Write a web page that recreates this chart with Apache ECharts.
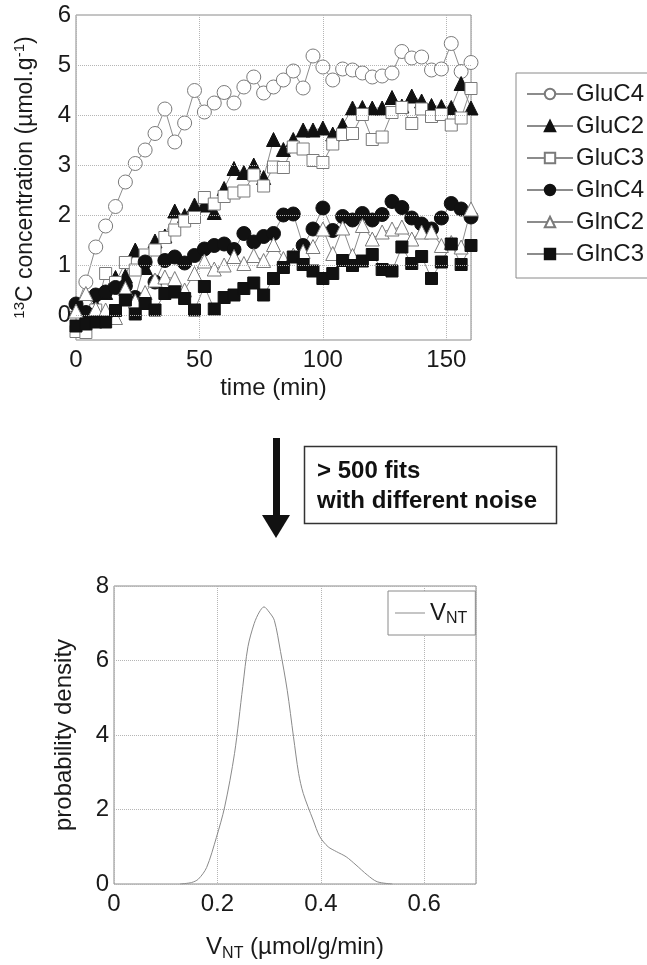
<!DOCTYPE html>
<html>
<head>
    <meta charset="utf-8">
    <script type="text/javascript" src="https://cdn.jsdelivr.net/npm/echarts@6/dist/echarts.min.js"></script>
    <style type="text/css">
        * {
            margin: 0;
            padding: 0;
        }
        body {
            background: #fff;
        }
        #container {
            width: 647px;
            height: 965px;
        }
    </style>
</head>
<body>
<div id="container"></div>

<script type="text/javascript">

    //时间点 (min)
    var times = [0, 4, 8, 12, 16, 20, 24, 28, 32, 36, 40, 44, 48, 52, 56, 60, 64, 68, 72, 76,
        80, 84, 88, 92, 96, 100, 104, 108, 112, 116, 120, 124, 128, 132, 136, 140, 144, 148, 152, 156, 160];

    //13C 浓度
    var gluC4 = [0.15, 0.66, 1.36, 1.78, 2.17, 2.66, 3.03, 3.3, 3.63, 4.12,
        3.46, 3.84, 4.49, 4.06, 4.24, 4.45, 4.24, 4.56, 4.76, 4.44,
        4.56, 4.7, 4.88, 4.54, 5.18, 4.96, 4.7, 4.92, 4.9, 4.84,
        4.76, 4.78, 4.84, 5.27, 5.14, 5.16, 4.9, 4.92, 5.43, 4.87, 5.05];
    var gluC2 = [0.1, 0.0, 0.2, 0.45, 0.75, 0.78, 1.3, 0.95, 1.48, 1.58,
        2.08, 1.99, 2.2, 2.2, 2.05, 2.53, 2.93, 2.85, 3.0, 2.75,
        3.51, 3.31, 3.51, 3.7, 3.7, 3.74, 3.62, 3.8, 4.14, 4.15,
        4.14, 4.14, 4.35, 4.18, 4.38, 4.28, 4.19, 4.17, 4.15, 4.63, 4.14];
    var gluC3 = [-0.33, -0.35, 0.1, 0.83, 0.65, 1.05, 0.9, 1.2, 1.3, 1.55,
        1.7, 1.88, 1.95, 2.35, 2.22, 2.37, 2.44, 2.48, 2.8, 2.58,
        2.96, 2.95, 3.36, 3.32, 3.09, 3.05, 3.42, 3.61, 3.63, 4.01,
        3.51, 3.56, 4.05, 4.15, 3.83, 4.12, 3.97, 4.01, 3.8, 3.94, 4.53];
    var glnC4 = [0.22, 0.05, 0.4, 0.46, 0.55, 0.58, 0.35, 1.06, 0.66, 1.09,
        1.16, 1.04, 1.19, 1.32, 1.39, 1.42, 1.31, 1.63, 1.46, 1.57,
        1.63, 2.0, 2.02, 1.39, 1.72, 2.14, 1.69, 1.97, 1.9, 2.03,
        1.9, 2.01, 2.27, 2.15, 1.94, 1.82, 1.72, 1.94, 2.23, 2.12, 1.96];
    var glnC2 = [0.08, 0.43, 0.12, 0.1, -0.05, 0.53, 0.28, 0.45, 0.7, 0.76,
        0.73, 0.5, 0.83, 1.08, 0.92, 1.0, 1.17, 1.03, 1.19, 1.09,
        1.41, 1.13, 1.2, 1.27, 1.37, 1.72, 1.23, 1.74, 1.19, 1.79,
        1.52, 1.66, 1.72, 1.76, 1.52, 1.66, 1.66, 1.39, 1.45, 1.36, 2.12];
    var glnC3 = [-0.22, -0.18, -0.14, -0.14, 0.09, 0.3, 0.02, 0.23, 0.1, 0.43,
        0.46, 0.33, 0.1, 0.57, 0.12, 0.35, 0.4, 0.53, 0.64, 0.4,
        0.73, 0.95, 1.16, 1.01, 0.88, 0.73, 0.83, 1.09, 0.99, 1.08,
        1.21, 0.91, 0.88, 1.36, 1.03, 1.17, 0.73, 1.06, 1.42, 1.01, 1.39];

    //V_NT 概率密度
    var vnt = [0.128, 0.150, 0.163, 0.179, 0.198, 0.214, 0.233, 0.249, 0.259, 0.271, 0.281, 0.290, 0.300, 0.310,
        0.322, 0.335, 0.347, 0.357, 0.366, 0.385, 0.398, 0.414, 0.430, 0.449, 0.468, 0.490, 0.509, 0.538];
    var dens = [0, 0.04, 0.13, 0.44, 1.25, 2.07, 3.5, 5.3, 6.37, 6.99, 7.3, 7.44, 7.3, 7.08,
        6.24, 5.2, 3.96, 2.97, 2.43, 1.72, 1.27, 1.0, 0.87, 0.73, 0.51, 0.24, 0.06, 0];

    //刻度
    var topXTicks = [0, 50, 100, 150];
    var topYTicks = [0, 1, 2, 3, 4, 5, 6];
    var botXTicks = [0, 0.2, 0.4, 0.6];
    var botYTicks = [0, 2, 4, 6, 8];

    var fontName = 'Liberation Sans, Arial, sans-serif';
    var textColor = '#1a1a1a';
    var lineGray = '#8c8c8c';
    var gridStyle = {color: '#b5b5b5', type: 'dotted', width: 1};

    function pairs(xs, ys) {
        var out = [];
        for (var i = 0; i < xs.length; i++) {
            out.push([xs[i], ys[i]]);
        }
        return out;
    }

    function inTicks(list, v) {
        for (var i = 0; i < list.length; i++) {
            if (Math.abs(list[i] - v) < 1e-6) return true;
        }
        return false;
    }

    //系列样式
    function makeSeries(name, ys, symbol, size, filled) {
        return {
            name: name,
            type: 'line',
            xAxisIndex: 0,
            yAxisIndex: 0,
            data: pairs(times, ys),
            symbol: symbol,
            symbolSize: size,
            showAllSymbol: true,
            lineStyle: {color: lineGray, width: 1},
            itemStyle: filled ? {color: '#111', borderColor: '#111', borderWidth: 1}
                : {color: '#fff', borderColor: '#7a7a7a', borderWidth: 1},
            emphasis: {disabled: true},
            z: 3
        };
    }

    var axisLabelStyle = {
        color: textColor,
        fontSize: 24,
        fontFamily: fontName
    };

    var dom = document.getElementById('container');
    var myChart = echarts.init(dom, null, {renderer: 'canvas'});

    var option = {
        backgroundColor: '#fff',
        animation: false,
        grid: [
            {left: 76, top: 15, width: 395, height: 325, show: true, borderColor: '#8a8a8a', borderWidth: 1},
            {left: 114, top: 586, width: 362, height: 298, show: true, borderColor: '#8a8a8a', borderWidth: 1}
        ],
        xAxis: [
            {
                gridIndex: 0, type: 'value', min: 0, max: 160, interval: 50,
                axisLine: {show: false}, axisTick: {show: false},
                splitLine: {show: true, lineStyle: gridStyle},
                axisLabel: {
                    margin: 8,
                    textStyle: axisLabelStyle,
                    formatter: function (v) { return inTicks(topXTicks, v) ? String(v) : ''; }
                },
                name: 'time (min)', nameLocation: 'middle', nameGap: 36,
                nameTextStyle: {color: textColor, fontSize: 24, fontFamily: fontName}
            },
            {
                gridIndex: 1, type: 'value', min: 0, max: 0.7, interval: 0.2,
                axisLine: {show: false}, axisTick: {show: false},
                splitLine: {show: true, lineStyle: gridStyle},
                axisLabel: {
                    margin: 8,
                    textStyle: axisLabelStyle,
                    formatter: function (v) { return inTicks(botXTicks, v) ? String(+v.toFixed(1)) : ''; }
                },
                name: '{v|V}{s|NT} (µmol/g/min)', nameLocation: 'middle', nameGap: 48,
                nameTextStyle: {
                    color: textColor, fontSize: 24, fontFamily: fontName,
                    rich: {
                        v: {fontSize: 24, fontFamily: fontName, color: textColor, lineHeight: 30},
                        s: {fontSize: 16, fontFamily: fontName, color: textColor, verticalAlign: 'bottom', lineHeight: 30, padding: [14, 0, 0, 0]}
                    }
                }
            }
        ],
        yAxis: [
            {
                gridIndex: 0, type: 'value', min: -0.5, max: 6, interval: 0.5,
                axisLine: {show: false}, axisTick: {show: false},
                splitLine: {show: false},
                axisLabel: {
                    margin: 5,
                    textStyle: axisLabelStyle,
                    formatter: function (v) { return inTicks(topYTicks, v) ? String(Math.round(v)) : ''; }
                },
                name: '{s|13}C concentration (µmol.g{s|-1})', nameLocation: 'middle', nameGap: 36,
                nameRotate: 90,
                nameTextStyle: {
                    color: textColor, fontSize: 23, fontFamily: fontName,
                    rich: {
                        s: {fontSize: 15, fontFamily: fontName, color: textColor, verticalAlign: 'top', lineHeight: 28}
                    }
                }
            },
            {
                gridIndex: 1, type: 'value', min: 0, max: 8, interval: 2,
                axisLine: {show: false}, axisTick: {show: false},
                splitLine: {show: true, lineStyle: gridStyle},
                axisLabel: {
                    margin: 5,
                    textStyle: axisLabelStyle,
                    formatter: function (v) { return inTicks(botYTicks, v) ? String(v) : ''; }
                },
                name: 'probability density', nameLocation: 'middle', nameGap: 38,
                nameTextStyle: {color: textColor, fontSize: 24, fontFamily: fontName}
            }
        ],
        legend: [
            {
                data: ['GluC4', 'GluC2', 'GluC3', 'GlnC4', 'GlnC2', 'GlnC3'],
                orient: 'vertical',
                left: 516, top: 73,
                padding: [9, 8, 12, 10],
                itemWidth: 46, itemHeight: 13, itemGap: 8,
                borderColor: '#8a8a8a', borderWidth: 1,
                backgroundColor: '#fff',
                textStyle: {color: textColor, fontSize: 24, fontFamily: fontName, lineHeight: 22, padding: [0, 0, 0, -2]}
            },
            {
                data: ['VNT'],
                orient: 'vertical',
                left: 388, top: 591,
                padding: [8, 8, 8, 7],
                icon: 'rect',
                itemWidth: 30, itemHeight: 1,
                itemStyle: {color: '#8a8a8a'},
                borderColor: '#8a8a8a', borderWidth: 1,
                backgroundColor: '#fff',
                formatter: function () { return '{v|V}{s|NT}'; },
                textStyle: {
                    color: textColor, fontSize: 24, fontFamily: fontName,
                    rich: {
                        v: {fontSize: 24, fontFamily: fontName, color: textColor, lineHeight: 28},
                        s: {fontSize: 16, fontFamily: fontName, color: textColor, verticalAlign: 'bottom', lineHeight: 28, padding: [12, 0, 0, 0]}
                    }
                }
            }
        ],
        graphic: [
            //箭头
            {type: 'rect', shape: {x: 273, y: 438, width: 7, height: 80}, style: {fill: '#111'}},
            {type: 'polygon', shape: {points: [[262, 515], [290, 515], [276, 538]]}, style: {fill: '#111'}},
            //文字框
            {type: 'rect', shape: {x: 304.5, y: 446.5, width: 252, height: 77}, style: {fill: '#fff', stroke: '#333', lineWidth: 1.5}},
            {type: 'text', left: 317, top: 459, style: {text: '> 500 fits', fill: '#111', font: 'bold 24px Liberation Sans, Arial, sans-serif'}},
            {type: 'text', left: 317, top: 489, style: {text: 'with different noise', fill: '#111', font: 'bold 24px Liberation Sans, Arial, sans-serif'}}
        ],
        series: [
            {
                //y 网格线
                type: 'line', xAxisIndex: 0, yAxisIndex: 0, data: [], silent: true, z: 1,
                markLine: {
                    silent: true, symbol: 'none', animation: false,
                    label: {show: false},
                    lineStyle: gridStyle,
                    data: [{yAxis: 0}, {yAxis: 1}, {yAxis: 2}, {yAxis: 3}, {yAxis: 4}, {yAxis: 5}]
                }
            },
            makeSeries('GluC4', gluC4, 'circle', 14, false),
            makeSeries('GluC2', gluC2, 'triangle', 14, true),
            makeSeries('GluC3', gluC3, 'rect', 12, false),
            makeSeries('GlnC4', glnC4, 'circle', 14, true),
            makeSeries('GlnC2', glnC2, 'triangle', 14, false),
            makeSeries('GlnC3', glnC3, 'rect', 12, true),
            {
                name: 'VNT',
                type: 'line',
                xAxisIndex: 1,
                yAxisIndex: 1,
                data: pairs(vnt, dens),
                smooth: 0.3,
                symbol: 'none',
                lineStyle: {color: '#8a8a8a', width: 1},
                itemStyle: {color: '#8a8a8a'},
                z: 3
            }
        ]
    };

    myChart.setOption(option);
</script>
</body>
</html>
